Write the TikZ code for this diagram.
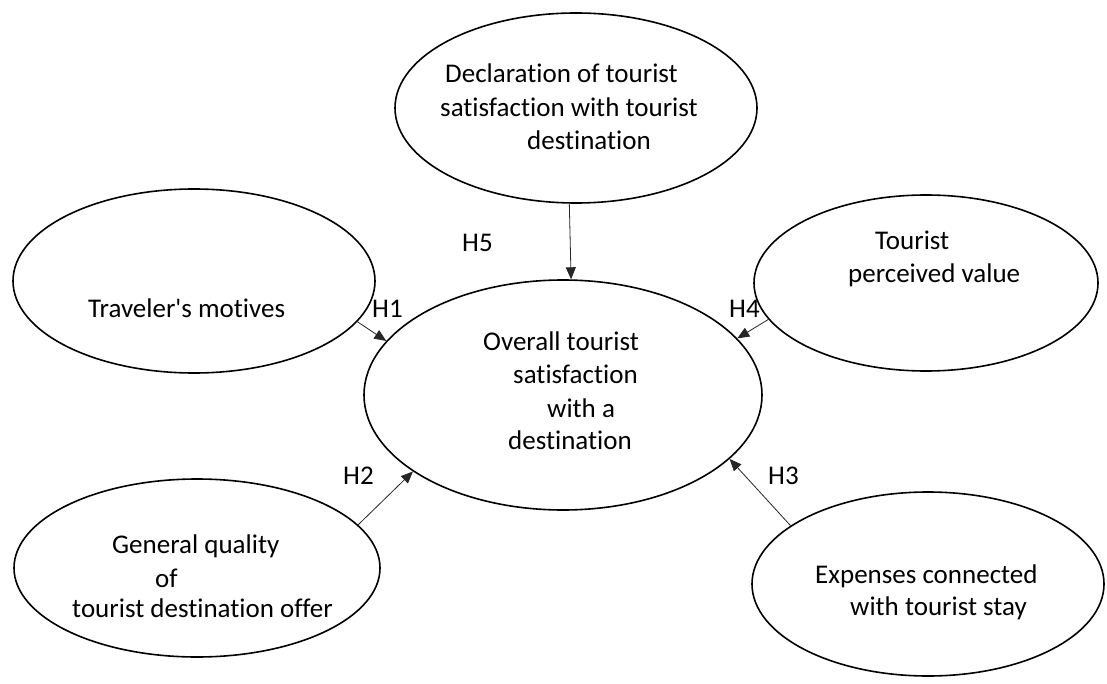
\documentclass[tikz,border=0pt]{standalone}
\usepackage{fontspec}
\setmainfont{Carlito}[Ligatures=NoCommon]
\usetikzlibrary{shapes.geometric,arrows.meta}
\tikzset{
  oval/.style={draw=black, ellipse, line width=1.6pt, inner sep=0pt},
  txt/.style={anchor=base west, inner sep=0pt, font=\fontsize{27}{33}\selectfont},
  hyp/.style={anchor=base west, inner sep=0pt, font=\fontsize{27}{33}\selectfont},
  link/.style={draw=black!85, line width=0.8pt, -{Triangle[length=12pt,width=10pt]}}
}
\begin{document}
\begin{tikzpicture}[x=1pt, y=-1pt]
\useasboundingbox[fill=white] (0,0) rectangle (1107,684);
% ellipses
\node[oval, minimum width=362pt, minimum height=190pt] (top) at (576,108) {};
\node[oval, minimum width=398pt, minimum height=230pt] (ctr) at (563,395) {};
\node[oval, minimum width=362pt, minimum height=184pt] (trav) at (194,281) {};
\node[oval, minimum width=344pt, minimum height=176pt] (val) at (926,283) {};
\node[oval, minimum width=366pt, minimum height=178pt] (qual) at (197,568) {};
\node[oval, minimum width=352pt, minimum height=184pt] (exp) at (928,584) {};
% texts
\node[txt] (top1) at (445,83) {Declaration of tourist};
\node[txt] (top2) at (440,117) {satisfaction with tourist};
\node[txt] (top3) at (527,150) {destination};
\node[txt] (ctr1) at (483,350) {Overall tourist};
\node[txt] (ctr2) at (513,383) {satisfaction};
\node[txt] (ctr3) at (547,417) {with a};
\node[txt] (ctr4) at (508,449) {destination};
\node[txt] (trav1) at (88,317) {Traveler\textquotesingle s motives};
\node[txt] (val1) at (875,250) {Tourist};
\node[txt] (val2) at (848,283) {perceived value};
\node[txt] (qual1) at (112,553) {General quality};
\node[txt] (qual2) at (155,587) {of};
\node[txt] (qual3) at (72,617) {tourist destination offer};
\node[txt] (exp1) at (815,583) {Expenses connected};
\node[txt] (exp2) at (850,615) {with tourist stay};
% hypothesis labels
\node[hyp] (h5) at (462,252) {H5};
\node[hyp] (h1) at (372,317) {H1};
\node[hyp] (h4) at (729,317) {H4};
\node[hyp] (h2) at (343,484) {H2};
\node[hyp] (h3) at (768,484) {H3};
% connectors
\draw[link] (trav.-14.2) -- (ctr.163.2);
\draw[link] (top.266.5) -- (ctr.86.5);
\draw[link] (val.193.3) -- (ctr.18.3);
\draw[link] (qual.15.9) -- (ctr.207.8);
\draw[link] (exp.157.6) -- (ctr.-21);
\end{tikzpicture}
\end{document}
